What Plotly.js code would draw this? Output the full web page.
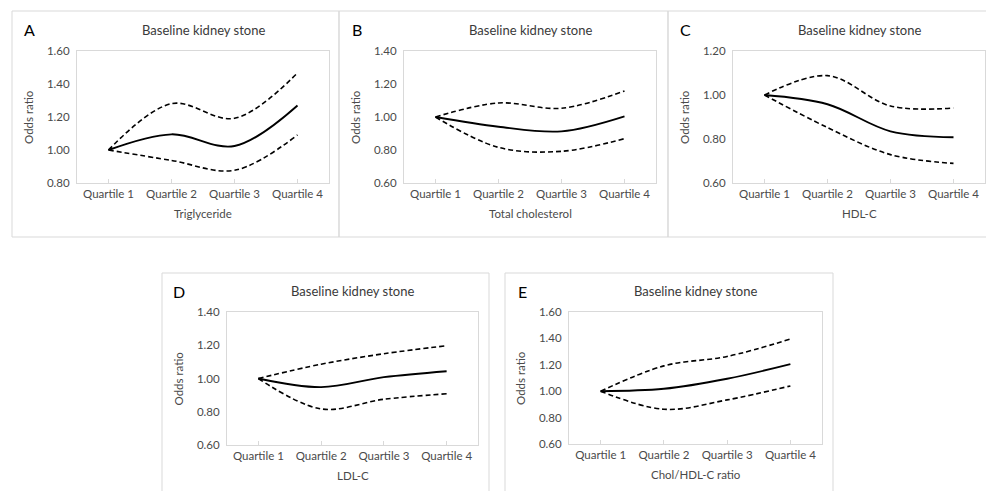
<!DOCTYPE html>
<html>
<head>
<meta charset="utf-8">
<script src="https://cdn.plot.ly/plotly-3.0.1.min.js"></script>
<style>html,body{margin:0;padding:0;background:#fff;}#chart{width:986px;height:491px;}</style>
</head>
<body>
<div id="chart"></div>
<script>
// ---- data ----
const categories = ['Quartile 1', 'Quartile 2', 'Quartile 3', 'Quartile 4'];
const panelLetters = ['A', 'B', 'C', 'D', 'E'];
const panelTitle = 'Baseline kidney stone';
const xTitles = ['Triglyceride', 'Total cholesterol', 'HDL-C', 'LDL-C', 'Chol/HDL-C ratio'];
const yTitle = 'Odds ratio';

const trigOR    = [1.00, 1.095, 1.024, 1.270];
const trigUpper = [1.00, 1.281, 1.192, 1.467];
const trigLower = [1.00, 0.937, 0.877, 1.091];

const tcOR    = [1.00, 0.941, 0.913, 1.004];
const tcUpper = [1.00, 1.085, 1.053, 1.158];
const tcLower = [1.00, 0.816, 0.792, 0.869];

const hdlOR    = [1.00, 0.958, 0.835, 0.808];
const hdlUpper = [1.00, 1.088, 0.950, 0.941];
const hdlLower = [1.00, 0.852, 0.729, 0.689];

const ldlOR    = [1.00, 0.948, 1.008, 1.044];
const ldlUpper = [1.00, 1.086, 1.149, 1.197];
const ldlLower = [1.00, 0.817, 0.875, 0.908];

const ratioOR    = [1.00, 1.018, 1.094, 1.205];
const ratioUpper = [1.00, 1.192, 1.263, 1.395];
const ratioLower = [1.00, 0.863, 0.934, 1.040];

const yRanges = [[0.8, 1.6], [0.6, 1.4], [0.6, 1.2], [0.6, 1.4], [0.6, 1.6]];

// ---- layout geometry (pixels) ----
const W = 986, H = 491;
const plots = [
  {l: 77,  r: 329, t: 51,  b: 183},
  {l: 404, r: 656, t: 51,  b: 183},
  {l: 733, r: 985, t: 51,  b: 183},
  {l: 227, r: 478, t: 312, b: 445},
  {l: 569, r: 822, t: 312, b: 444}
];
const boxes = [
  {l: 12,  r: 339,  t: 11,  b: 237},
  {l: 339, r: 668,  t: 11,  b: 237},
  {l: 668, r: 1000, t: 11,  b: 237},
  {l: 162, r: 489,  t: 273, b: 520},
  {l: 505, r: 833,  t: 273, b: 520}
];
const letterX = [29, 357, 685, 179, 522];

const series = [
  [trigOR, trigUpper, trigLower],
  [tcOR, tcUpper, tcLower],
  [hdlOR, hdlUpper, hdlLower],
  [ldlOR, ldlUpper, ldlLower],
  [ratioOR, ratioUpper, ratioLower]
];

const px = x => x / W;
const py = y => 1 - y / H;

const FONT = 'Lato, "Open Sans", sans-serif';
const GRAY = '#4a4a4a';
const TITLEGRAY = '#3a3a3a';
const LINEGRAY = '#d9d9d9';

const traces = [];
const layout = {
  width: W, height: H,
  margin: {l: 0, r: 0, t: 0, b: 0},
  paper_bgcolor: '#fff', plot_bgcolor: '#fff',
  showlegend: false,
  font: {family: FONT, size: 11.5, color: GRAY},
  shapes: [], annotations: []
};

series.forEach((s, i) => {
  const n = i + 1;
  const xa = 'x' + (n === 1 ? '' : n), ya = 'y' + (n === 1 ? '' : n);
  const p = plots[i];
  const styles = [
    {color: '#000', width: 1.9},
    {color: '#000', width: 1.6, dash: '5px,3px'},
    {color: '#000', width: 1.6, dash: '5px,3px'}
  ];
  const names = ['Odds ratio', 'Upper 95% CI', 'Lower 95% CI'];
  [1, 2, 0].forEach(k => {
    traces.push({
      x: categories, y: s[k], xaxis: xa, yaxis: ya, type: 'scatter', mode: 'lines',
      name: names[k],
      line: Object.assign({shape: 'spline', smoothing: 1}, styles[k]),
      hoverinfo: 'x+y'
    });
  });
  layout['xaxis' + (n === 1 ? '' : n)] = {
    domain: [px(p.l), px(p.r)], anchor: ya, type: 'category',
    range: [-0.5, 3.5], showgrid: false, zeroline: false,
    showline: true, mirror: true, linecolor: LINEGRAY, linewidth: 1,
    ticks: 'inside', ticklen: 4, tickcolor: LINEGRAY, tickwidth: 1,
    tickfont: {family: FONT, size: 11.5, color: GRAY}, fixedrange: true
  };
  layout['yaxis' + (n === 1 ? '' : n)] = {
    domain: [py(p.b), py(p.t)], anchor: xa,
    range: yRanges[i], dtick: 0.2, tick0: 0, tickformat: '.2f',
    showgrid: false, zeroline: false,
    showline: true, mirror: true, linecolor: LINEGRAY, linewidth: 1,
    ticks: '', ticklabelstandoff: 4,
    tickfont: {family: FONT, size: 11.5, color: GRAY}, fixedrange: true
  };
  const b = boxes[i];
  layout.shapes.push({type: 'rect', xref: 'paper', yref: 'paper',
    x0: px(b.l), x1: px(b.r), y0: py(b.b), y1: py(b.t),
    line: {color: LINEGRAY, width: 1}, fillcolor: 'rgba(0,0,0,0)', layer: 'below'});
  // letter
  layout.annotations.push({text: panelLetters[i], xref: 'paper', yref: 'paper',
    x: px(letterX[i]), y: py(p.t - 21), xanchor: 'center', yanchor: 'middle',
    showarrow: false, font: {family: FONT, size: 16, color: '#000', weight: 400}});
  // title
  layout.annotations.push({text: panelTitle, xref: 'paper', yref: 'paper',
    x: px((p.l + p.r) / 2), y: py(p.t - 21), xanchor: 'center', yanchor: 'middle',
    showarrow: false, font: {family: FONT, size: 13, color: TITLEGRAY, weight: 400}});
  // x title
  layout.annotations.push({text: xTitles[i], xref: 'paper', yref: 'paper',
    x: px((p.l + p.r) / 2), y: py(p.b + 30), xanchor: 'center', yanchor: 'middle',
    showarrow: false, font: {family: FONT, size: 11.5, color: GRAY}});
  // y title
  layout.annotations.push({text: yTitle, xref: 'paper', yref: 'paper',
    x: px(p.l - 49), y: py((p.t + p.b) / 2), xanchor: 'center', yanchor: 'middle',
    textangle: -90, showarrow: false, font: {family: FONT, size: 11.5, color: GRAY}});
});

Plotly.newPlot('chart', traces, layout, {displayModeBar: false, staticPlot: true});
</script>
</body>
</html>
